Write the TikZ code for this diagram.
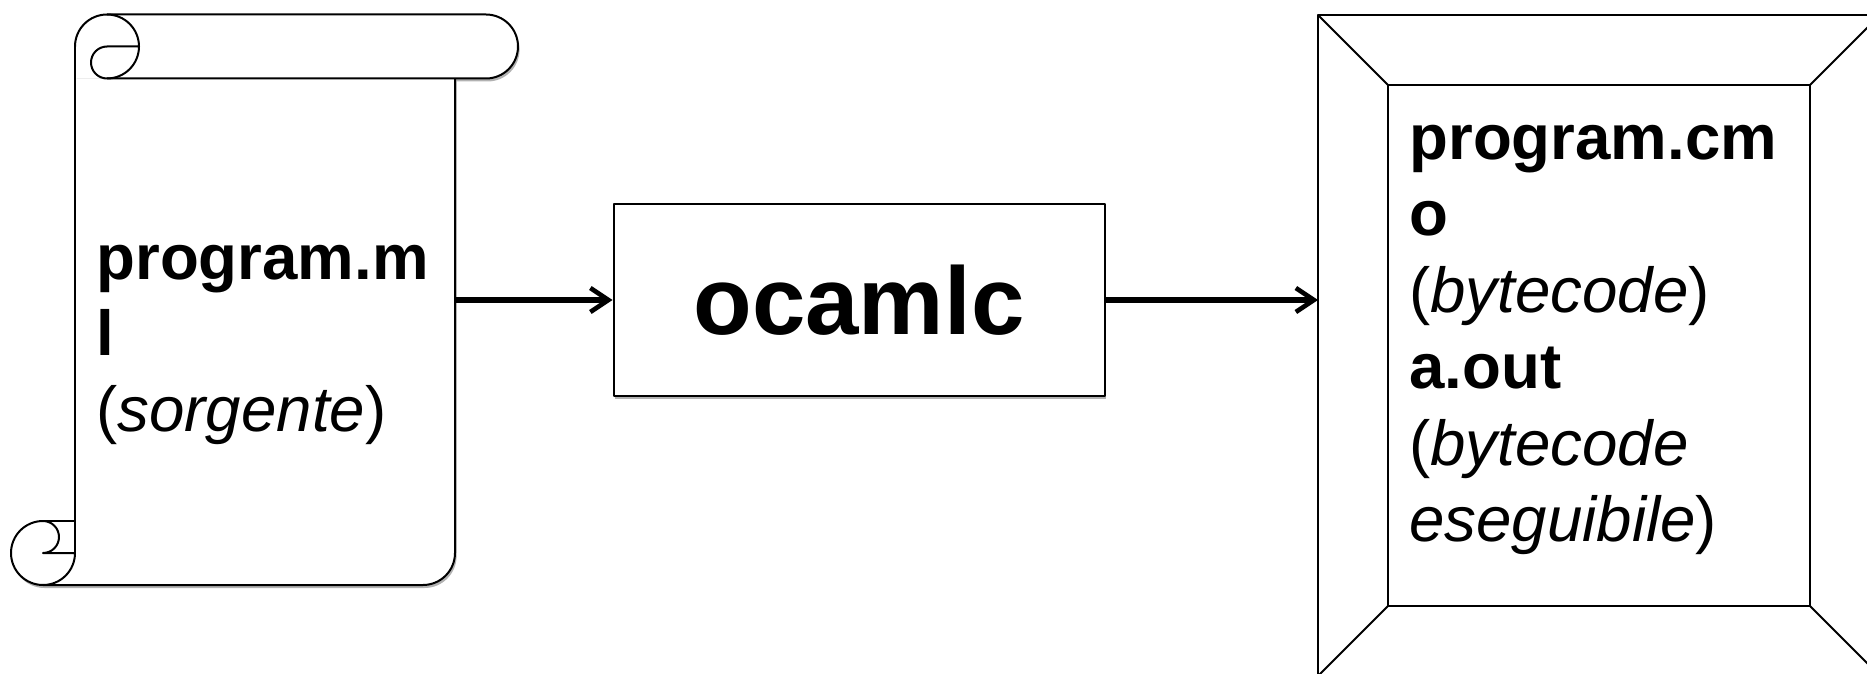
\documentclass[tikz,border=0pt]{standalone}
\usepackage{fontspec}
\setmainfont{Liberation Sans}
\usetikzlibrary{arrows.meta,shadows}
\def\rollr{32}
\def\curlr{16}
\tikzset{
    softshadow/.style={drop shadow={shadow xshift=0.8pt,shadow yshift=-1.5pt,opacity=0.3,fill=black}},
    outline/.style={draw=black,line width=1pt,fill=white,line join=round},
    flowarrow/.style={line width=2.8pt,-{Straight Barb[length=9pt,width=12pt,line width=2.3pt]}},
    bigtext/.style={font=\fontsize{31.8}{38.2}\selectfont,align=left,anchor=west,inner sep=0pt},
    toolbox/.style={outline,softshadow,minimum width=245.5pt,minimum height=96pt,inner sep=0pt,
        font=\fontsize{48}{57}\selectfont\bfseries}
}
% y grows downwards here, so 270 is the top of an arc and 90 its bottom
\newcommand{\toproll}[2]{
    \draw [outline,fill=none] (#1,#2+\rollr) arc[start angle=180,end angle=270,radius=\rollr]
    arc[start angle=-90,end angle=90,radius=\rollr]
    arc[start angle=90,end angle=270,radius=\curlr] -- (#1+2*\rollr,#2+\rollr);
}
\newcommand{\bottomroll}[2]{
    \draw [outline,fill=none] (#1,#2) arc[start angle=0,end angle=270,radius=\rollr]
    arc[start angle=-90,end angle=90,radius=\curlr] -- (#1,#2);
    \draw [outline,fill=none] (#1-\rollr,#2-\rollr) -- (#1,#2-\rollr);
}
\begin{document}
\begin{tikzpicture}[x=0.5pt,y=-0.5pt]
    \clip (0,0) rectangle (1867,674);
    \path [use as bounding box] (0,0) rectangle (1867,674);
    % scroll
    \path [fill=white,softshadow] (75,46.5) arc[start angle=180,end angle=270,radius=\rollr] -- (486,14.5)
    arc[start angle=-90,end angle=90,radius=\rollr] -- (75,78.5) -- cycle;
    \path [fill=white,softshadow] (75,78.5) -- (455,78.5) -- (455,553) arc[start angle=0,end angle=90,radius=\rollr]
    -- (43,585) arc[start angle=90,end angle=270,radius=\rollr] -- (75,521) -- cycle;
    \draw [outline,fill=none] (107,14.5) -- (486,14.5) arc[start angle=-90,end angle=90,radius=\rollr] -- (107,78.5);
    \draw [outline,fill=none] (75,46.5) -- (75,553);
    \draw [outline,fill=none] (455,78.5) -- (455,553) arc[start angle=0,end angle=90,radius=\rollr] -- (43,585);
    \toproll{75}{14.5}
    \bottomroll{75}{553}
    \coordinate (srcout) at (455,300);
    \node [bigtext] (srctext) at (96,345) {\textbf{program.m}\\\textbf{l}\\(\textit{sorgente})};
    % compiler
    \node [toolbox] (compiler) at (859,300) {\raisebox{-6pt}{ocamlc}};
    % frame
    \draw [outline] (1318,15) rectangle (1880,676);
    \draw [outline] (1388,85) rectangle (1810,606);
    \draw [outline] (1318,15) -- (1388,85);
    \draw [outline] (1880,15) -- (1810,85);
    \draw [outline] (1318,676) -- (1388,606);
    \draw [outline] (1880,676) -- (1810,606);
    \coordinate (framein) at (1318,300);
    \node [bigtext] (outtext) at (1409,340) {\textbf{program.cm}\\\textbf{o}\\(\textit{bytecode})\\\textbf{a.out}\\(\textit{bytecode}\\\textit{eseguibile})};
    % arrows
    \draw [flowarrow] (srcout) -- (compiler.west);
    \draw [flowarrow] (compiler.east) -- (framein);
\end{tikzpicture}
\end{document}
